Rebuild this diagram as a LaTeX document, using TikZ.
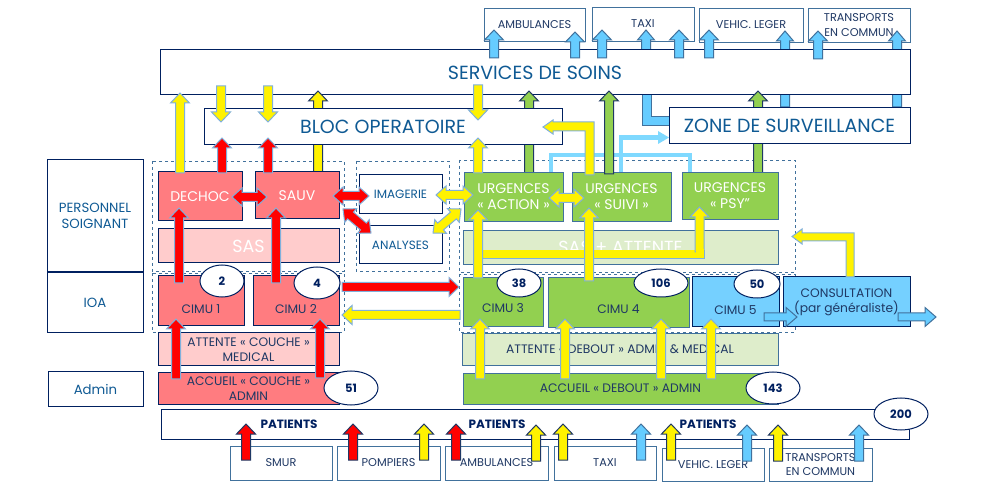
\documentclass[tikz,border=0pt]{standalone}
\usepackage{fontspec}
\setmainfont{Poppins}
\usetikzlibrary{calc,shapes.geometric}
\definecolor{navy}{HTML}{002060}
\definecolor{steel}{HTML}{41719C}
\definecolor{titleblue}{HTML}{0F5A94}
\definecolor{labelblue}{HTML}{1F3864}
\definecolor{softblue}{HTML}{7FB0DC}
\definecolor{redbox}{HTML}{FF7C80}
\definecolor{pinkbox}{HTML}{FFCCCC}
\definecolor{greenbox}{HTML}{92D050}
\definecolor{palegreen}{HTML}{DEEDCB}
\definecolor{skybox}{HTML}{75D0FF}
\definecolor{skyarrow}{HTML}{66CCFF}
\definecolor{skyline}{HTML}{7FD9FF}
\tikzset{
  x=1pt,y=-1pt,
  bx/.style={draw=navy,line width=1pt,fill=white,inner sep=0pt,outer sep=0pt,align=center,text=labelblue,font=\fontsize{12.3}{15}\selectfont},
  thin box/.style={bx,draw=steel,line width=0.9pt},
  small box/.style={thin box,font=\fontsize{11.3}{14.5}\selectfont},
  title/.style={text=titleblue,font=\fontsize{19}{22}\selectfont},
  side/.style={text=titleblue,font=\fontsize{13.3}{16}\selectfont},
  lab/.style={text=titleblue,font=\fontsize{12}{14}\selectfont},
  whitetext/.style={text=white,font=\fontsize{14}{16.5}\selectfont},
  bigwhite/.style={text=white,font=\fontsize{17.5}{20}\selectfont},
  group/.style={draw=steel,dashed,line width=0.8pt},
  badge/.style={ellipse,draw=navy,line width=1pt,fill=white,inner sep=0pt,outer sep=0pt,text=navy,font=\bfseries\fontsize{11.5}{13}\selectfont},
  patlabel/.style={text=navy,font=\bfseries\fontsize{12}{14}\selectfont},
  yarrow/.style={fill=yellow,draw=softblue,line width=1pt,line join=miter},
  ydark/.style={fill=yellow,draw=labelblue,line width=1pt},
  rarrow/.style={fill=red,draw=softblue,line width=1pt},
  rdark/.style={fill=red,draw=labelblue,line width=1pt},
  barrowst/.style={fill=skyarrow,draw=steel,line width=1pt},
  garrow/.style={fill=greenbox,draw=labelblue,line width=1pt},
}
\def\sw{4.5}\def\hw{9.5}\def\hl{11}
\newcommand{\lowtxt}[2]{\raisebox{-#1}[0pt][0pt]{#2}}
% box from corner to corner
\newcommand{\bxn}[7][]{%
  \pgfmathsetmacro{\bxw}{#5-#3}\pgfmathsetmacro{\bxh}{#6-#4}%
  \node[bx,#1,minimum width=\bxw pt,minimum height=\bxh pt] (#2) at ({(#3+#5)/2},{(#4+#6)/2}) {#7};}
% block arrows between two coordinates
\makeatletter
\newcommand{\arrowsetup}[2]{%
  \path #1 coordinate (@a) #2 coordinate (@b);%
  \pgfpointdiff{\pgfpointanchor{@a}{center}}{\pgfpointanchor{@b}{center}}%
  \pgfgetlastxy{\@mx}{\@my}%
  \pgfmathsetmacro{\@L}{veclen(\@mx,\@my)}%
  \pgfmathsetmacro{\@A}{atan2(\@my,\@mx)}%
  \pgfmathsetmacro{\@B}{\@L-\hl}}
\newcommand{\onearrow}[3][]{\arrowsetup{#2}{#3}%
  \draw[#1,shift={(@a)},rotate=\@A,x=1pt,y=1pt] (0,\sw)--(\@B,\sw)--(\@B,\hw)--(\@L,0)--(\@B,-\hw)--(\@B,-\sw)--(0,-\sw)--cycle;}
\newcommand{\twoarrow}[3][]{\arrowsetup{#2}{#3}%
  \draw[#1,shift={(@a)},rotate=\@A,x=1pt,y=1pt] (0,0)--(\hl,\hw)--(\hl,\sw)--(\@B,\sw)--(\@B,\hw)--(\@L,0)--(\@B,-\hw)--(\@B,-\sw)--(\hl,-\sw)--(\hl,-\hw)--cycle;}
\makeatother
% vertical / horizontal connectors: position, node anchor + offset at both ends
\newcommand{\vc}[6][]{\coordinate (@p) at (#2,0);%
  \onearrow[#1]{($(@p |- #3)+(0,#4)$)}{($(@p |- #5)+(0,#6)$)}}
\newcommand{\hc}[6][]{\coordinate (@p) at (0,#2);%
  \onearrow[#1]{($(@p -| #3)+(#4,0)$)}{($(@p -| #5)+(#6,0)$)}}
\newcommand{\hd}[6][]{\coordinate (@p) at (0,#2);%
  \twoarrow[#1]{($(@p -| #3)+(#4,0)$)}{($(@p -| #5)+(#6,0)$)}}
\begin{document}
\begin{tikzpicture}
\useasboundingbox (0,0) rectangle (991,486);
\fill[white] (0,0) rectangle (991,486);
% left column
\bxn[side]{pers}{47}{160}{143}{272}{PERSONNEL\\SOIGNANT}
\bxn[side]{ioa}{47}{273}{143}{333}{IOA}
\bxn[side]{adm}{48}{372}{143}{406}{Admin}
% destinations
\bxn[small box]{tamb}{484}{8}{585}{41}{AMBULANCES}
\bxn[small box]{ttaxi}{592}{7}{694}{41}{TAXI}
\bxn[small box]{tveh}{699}{8}{803}{42}{VEHIC. LEGER}
\bxn[small box]{ttr}{808}{8}{910}{42}{TRANSPORTS\\EN COMMUN}
% groups
\draw[group] (152,161) rectangle (344,271);
\draw[group] (356,161) rectangle (449,271);
\draw[group] (459,160) rectangle (795,272);
\draw[group] (152,273) rectangle (344,332);
\draw[group] (459,274) rectangle (795,332);
% long blue arrows, behind the services box
\def\sw{4.5}\def\hw{8.5}\def\hl{10}
\vc[barrowst]{785}{ttr.south}{65}{tveh.south}{-11}
\vc[barrowst]{897}{ttr.south}{65}{ttr.south}{-11}
\draw[barrowst] (642,50) -- (642,126) -- (680,126) -- (680,117) -- (651,117) -- (651,50) -- cycle;
\vc[barrowst]{646}{ttaxi.south}{20}{ttaxi.south}{-11}
% services
\bxn[title]{serv}{160}{50}{910}{95}{SERVICES DE SOINS}
% arrows behind bloc and zone
\def\sw{4.5}\def\hw{9.5}\def\hl{10}
\coordinate (u) at (0,172);
\vc[ydark]{318}{u}{0}{serv.south}{-4}
\vc[garrow]{529}{u}{2}{serv.south}{-4}
\vc[garrow]{758}{u}{2}{serv.south}{-4}
% bloc and zone
\bxn[title]{bloc}{204}{109}{562}{145}{BLOC OPERATOIRE}
\bxn[title]{zone}{669}{108}{910}{144}{ZONE DE SURVEILLANCE}
% care boxes
\bxn[fill=redbox,whitetext]{dechoc}{158}{172}{242}{221}{DECHOC}
\bxn[fill=redbox,whitetext]{sauv}{255}{172}{339}{219}{SAUV}
\bxn[fill=pinkbox,bigwhite]{sas}{158}{229}{339}{263}{SAS}
\bxn[lab]{imag}{359}{175}{442}{214}{IMAGERIE}
\bxn[lab]{anal}{359}{226}{442}{264}{ANALYSES}
\bxn[thin box,fill=greenbox,whitetext]{uact}{464}{172}{563}{221}{URGENCES\\« ACTION »}
\bxn[thin box,fill=greenbox,whitetext]{usui}{572}{172}{671}{221}{URGENCES\\« SUIVI »}
\bxn[thin box,fill=greenbox,whitetext]{upsy}{682}{172}{778}{219}{URGENCES\\« PSY"}
\bxn[thin box,fill=palegreen,bigwhite]{sasa}{463}{230}{778}{264}{SAS + ATTENTE}
% triage row
\bxn[fill=redbox]{c1}{158}{276}{244}{326}{\lowtxt{12.4pt}{CIMU 1}}
\bxn[fill=redbox]{c2}{253}{276}{339}{326}{\lowtxt{12.4pt}{CIMU 2}}
\bxn[thin box,fill=greenbox]{c3}{463}{277}{543}{326}{\lowtxt{11pt}{CIMU 3}}
\bxn[thin box,fill=greenbox]{c4}{548}{277}{689}{327}{\lowtxt{11.4pt}{CIMU 4}}
\bxn[fill=skybox]{c5}{692}{277}{779}{327}{\lowtxt{12.4pt}{CIMU 5}}
\bxn[fill=skybox]{cons}{783}{277}{910}{327}{CONSULTATION\\(par généraliste)}
% waiting and reception
\bxn[fill=pinkbox]{attc}{158}{333}{339}{366}{ATTENTE « COUCHE »\\MEDICAL}
\bxn[fill=redbox]{accc}{158}{373}{339}{404}{ACCUEIL « COUCHE »\\ADMIN}
\bxn[thin box,fill=palegreen]{attd}{462}{333}{778}{365}{ATTENTE « DEBOUT » ADMIN \& MEDICAL}
\bxn[thin box,fill=greenbox]{accd}{463}{373}{778}{404}{ACCUEIL « DEBOUT » ADMIN}
% patients row
\bxn{pat}{161}{409}{909}{439}{}
\node[patlabel] (p1) at (289,424) {PATIENTS};
\node[patlabel] (p2) at (497,424) {PATIENTS};
\node[patlabel] (p3) at (708,424) {PATIENTS};
% arrivals
\bxn[small box]{bsm}{230}{446}{332}{480}{SMUR}
\bxn[small box]{bpo}{337}{446}{440}{480}{POMPIERS}
\bxn[small box]{bam}{445}{446}{548}{480}{AMBULANCES}
\bxn[small box]{bta}{554}{446}{656}{480}{TAXI}
\bxn[small box]{bve}{662}{448}{764}{481}{VEHIC. LEGER}
\bxn[small box]{btr}{769}{448}{872}{481}{TRANSPORTS\\EN COMMUN}
% top blue arrows
\vc[barrowst]{494}{serv.north}{8}{tamb.south}{-11}
\vc[barrowst]{575}{serv.north}{8}{tamb.south}{-9}
\vc[barrowst]{602}{serv.north}{8}{ttaxi.south}{-11}
\vc[barrowst]{679}{serv.north}{8}{ttaxi.south}{-11}
\vc[barrowst]{709}{serv.north}{8}{tveh.south}{-12}
\vc[barrowst]{818}{serv.north}{9}{ttr.south}{-11}
% light blue routes
\coordinate (routeA) at (551,172);
\coordinate (routeB) at (690,172);
\coordinate (routeC) at (621,172);
\draw[skyline,line width=4.5pt] (routeA) -- (551,155) -- (690,155) -- (routeB);
\draw[skyline,line width=4.5pt] (routeC) -- (621,137.5) -- (660,137.5);
\fill[skyline] (658,131) -- (zone.west |- 0,137.5) -- (658,144) -- cycle;
% arrows in front
\vc[garrow]{609}{usui.north}{2}{serv.south}{-4}
\vc[yarrow]{180}{dechoc.north}{1}{serv.south}{-2}
\vc[yarrow]{221}{serv.south}{-9}{bloc.north}{13}
\vc[yarrow]{268}{serv.south}{-9}{bloc.north}{13}
\vc[yarrow]{478}{serv.south}{-10}{bloc.north}{11}
\vc[yarrow]{478}{uact.north}{1}{bloc.south}{-7}
\vc[rarrow]{222}{dechoc.north}{1}{bloc.south}{-7}
\vc[rarrow]{268}{sauv.north}{1}{bloc.south}{-7}
\draw[yarrow] (543,127) -- (553,120) -- (553,122) -- (594,122) -- (594,175) -- (585,175) -- (585,131) -- (553,131) -- (553,134) -- cycle;
% double arrows
\def\sw{4.5}\def\hw{9}\def\hl{10}
\hd[rarrow]{197}{dechoc.east}{-10}{sauv.west}{12}
\hd[rarrow]{196}{sauv.east}{-6}{imag.west}{10}
\twoarrow[rarrow]{(343,209)}{(371,233)}
\hd[yarrow]{195}{imag.east}{-6}{uact.west}{9}
\twoarrow[yarrow]{(461,209)}{(433,233)}
\hd[yarrow]{198}{uact.east}{-14}{usui.west}{12}
% vertical arrows through the groups
\def\sw{4.5}\def\hw{9.5}\def\hl{10}
\vc[rarrow]{179}{c1.north}{7}{dechoc.south}{-13}
\vc[rarrow]{276}{c2.north}{7}{sauv.south}{-11}
\fill[yellow] (478,250) rectangle (704,259);
\draw[softblue,line width=1pt] (704,250) -- (704,259) -- (483,259);
\vc[yarrow]{478}{c3.north}{1}{uact.south}{-11}
\vc[yarrow]{589}{c4.north}{4}{usui.south}{-13}
\coordinate (yy) at (0,252);
\vc[yarrow]{699.5}{yy}{0}{upsy.south}{-12}
\fill[yellow] (695.5,249) rectangle (703.5,258.5);
% horizontal exchange between triage groups
\hc[rarrow]{287}{c2.east}{3}{c3.west}{-4}
\hc[yarrow]{315}{c3.west}{-3}{c2.east}{3}
% elbow from consultation
\draw[yarrow] (792,236.5) -- (802,229) -- (802,233) -- (854,233) -- (854,277) -- (846,277) -- (846,241) -- (802,241) -- (802,244) -- cycle;
% blue arrows out of CIMU 5 and consultation
\def\sw{4}\def\hl{11}
\hc[barrowst]{317}{c5.east}{-15}{cons.west}{14}
\hc[barrowst]{317}{cons.east}{-12}{cons.east}{26}
% upward arrows inside the triage block
\def\sw{4.5}\def\hw{9.5}\def\hl{10}
\vc[rarrow]{176}{accc.north}{6}{c1.south}{-7}
\vc[rarrow]{320}{accc.north}{5}{c2.south}{-7}
\vc[yarrow]{480}{accd.north}{6}{c3.south}{-7}
\vc[yarrow]{565}{accd.north}{6}{c4.south}{-8}
\vc[yarrow]{661}{accd.north}{6}{c4.south}{-8}
\vc[yarrow]{711}{accd.north}{6}{c5.south}{-8}
% arrivals arrows
\vc[rdark]{246}{bsm.north}{14}{pat.south}{-15}
\vc[rdark]{353}{bpo.north}{14}{pat.south}{-15}
\vc[ydark]{424}{bpo.north}{14}{pat.south}{-15}
\vc[rdark]{456}{bam.north}{14}{pat.south}{-15}
\vc[ydark]{536}{bam.north}{15}{pat.south}{-14}
\vc[ydark]{563}{bta.north}{14}{pat.south}{-15}
\vc[barrowst]{641}{bta.north}{14}{pat.south}{-15}
\vc[ydark]{671}{bve.north}{12}{pat.south}{-15}
\vc[barrowst]{747}{bve.north}{13}{pat.south}{-14}
\vc[ydark]{778}{btr.north}{13}{pat.south}{-14}
\vc[barrowst]{859}{btr.north}{13}{pat.south}{-14}
% count badges
\node[badge,minimum width=44pt,minimum height=32pt] (n2) at (222,281) {2};
\node[badge,minimum width=46pt,minimum height=32pt] (n4) at (317,283) {4};
\node[badge,minimum width=54pt,minimum height=34pt] (n51) at (351,388) {51};
\node[badge,minimum width=44pt,minimum height=28pt] (n38) at (519,283) {38};
\node[badge,minimum width=54pt,minimum height=28pt] (n106) at (661,283) {106};
\node[badge,minimum width=46pt,minimum height=28pt] (n50) at (757,284) {50};
\node[badge,minimum width=54pt,minimum height=32pt] (n143) at (773,388) {143};
\node[badge,minimum width=54pt,minimum height=32pt] (n200) at (901,414) {200};
\end{tikzpicture}
\end{document}
